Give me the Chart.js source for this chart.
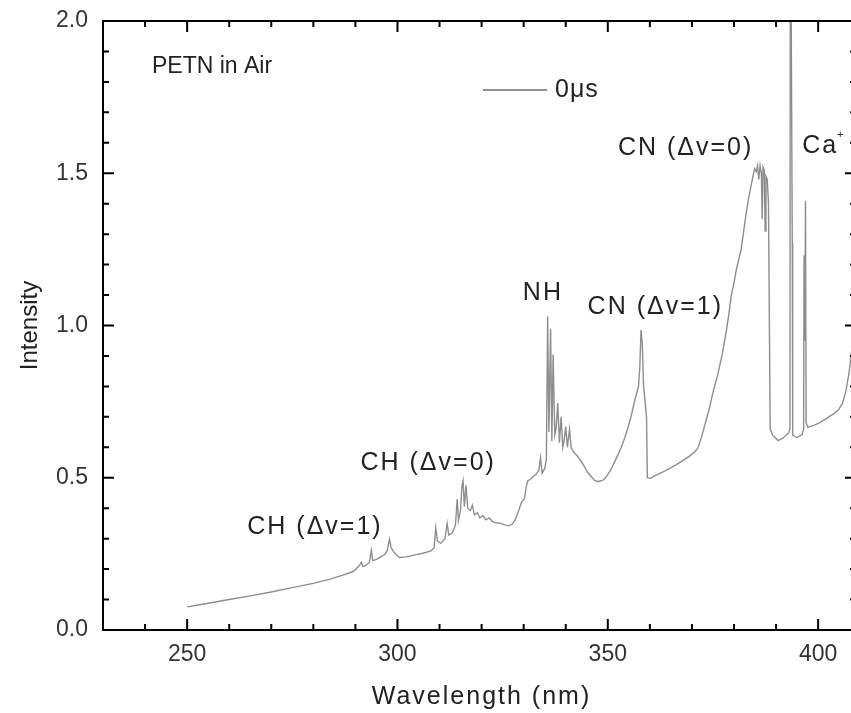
<!DOCTYPE html>
<html>
<head>
<meta charset="utf-8">
<script src="https://cdn.jsdelivr.net/npm/chart.js@4.4.0/dist/chart.umd.min.js"></script>
<style>
  html, body { margin: 0; padding: 0; background: #fff; }
  #wrap { width: 851px; height: 713px; overflow: hidden; position: relative; }
</style>
</head>
<body>
<div id="wrap"><canvas id="spectrumChart" width="860" height="713"></canvas></div>
<script>
// PETN emission spectrum in air, 0 us gate delay
var wavelength = [
  250, 255, 260, 265, 270, 275, 280, 284, 287, 289.5,
  290.5, 291, 291.4, 291.8, 292.5, 293.3, 293.8, 294.1, 295, 296,
  297, 297.6, 298.1, 298.5, 299, 299.7, 300.5, 302, 304, 306,
  308, 308.7, 309.1, 309.5, 310.3, 311.3, 311.8, 312.2, 313, 313.8,
  314.2, 314.5, 315, 315.3, 315.6, 315.9, 316.3, 316.7, 317.3, 317.8,
  318.3, 319, 319.6, 320.3, 321, 321.8, 322.6, 323.5, 324.5, 325.5,
  326.5, 327.3, 328, 328.8, 329.5, 330.2, 330.6, 331, 331.6, 332.3,
  333, 333.6, 334, 334.4, 335, 335.4, 335.7, 336, 336.4, 336.7,
  337, 337.4, 337.7, 338.1, 338.5, 338.9, 339.3, 339.6, 340, 340.4,
  340.9, 341.3, 342, 342.7, 343.5, 344.3, 345.2, 346, 346.8, 347.6,
  348.4, 349.2, 350, 350.8, 351.6, 352.4, 353.2, 354, 354.8, 355.6,
  356.3, 356.9, 357.3, 357.6, 357.9, 358.2, 358.5, 358.8, 359.2, 359.4,
  360.2, 361, 362, 363.5, 365, 366.5, 368, 369.5, 370.7, 371.5,
  372.3, 373.2, 374, 375, 376.2, 377.2, 378.1, 378.8, 379.3, 380,
  380.5, 381.1, 381.7, 382.3, 382.9, 383.5, 384, 384.5, 384.9, 385.3,
  385.6, 385.9, 386.2, 386.5, 386.7, 386.9, 387.2, 387.4, 387.6, 387.9,
  388.2, 388.6, 389.2, 390.5, 391.8, 393, 393.3, 393.4, 393.85, 393.95,
  395, 396.2, 396.55, 396.65, 396.8, 397.0, 397.15, 397.6, 399, 400.5,
  402, 403.5, 404.8, 405.8, 406.6, 407.3, 408, 409
];
var intensity = [
  0.076, 0.088, 0.100, 0.112, 0.125, 0.139, 0.153, 0.167, 0.180, 0.192,
  0.205, 0.213, 0.222, 0.208, 0.212, 0.222, 0.262, 0.228, 0.232, 0.240,
  0.248, 0.262, 0.298, 0.270, 0.258, 0.247, 0.238, 0.240, 0.246, 0.252,
  0.260, 0.270, 0.335, 0.292, 0.285, 0.300, 0.350, 0.312, 0.318, 0.345,
  0.430, 0.360, 0.395, 0.470, 0.490, 0.405, 0.475, 0.400, 0.392, 0.410,
  0.378, 0.385, 0.368, 0.376, 0.362, 0.368, 0.356, 0.352, 0.350, 0.345,
  0.342, 0.348, 0.362, 0.392, 0.420, 0.432, 0.470, 0.490, 0.495, 0.505,
  0.512, 0.525, 0.565, 0.515, 0.530, 0.560, 1.030, 0.650, 0.990, 0.620,
  0.905, 0.640, 0.660, 0.745, 0.615, 0.700, 0.600, 0.620, 0.668, 0.600,
  0.660, 0.598, 0.582, 0.572, 0.558, 0.540, 0.518, 0.505, 0.492, 0.487,
  0.490, 0.495, 0.510, 0.528, 0.552, 0.575, 0.600, 0.630, 0.665, 0.705,
  0.748, 0.780, 0.800, 0.860, 0.985, 0.940, 0.800, 0.760, 0.700, 0.500,
  0.498, 0.505, 0.512, 0.522, 0.533, 0.545, 0.558, 0.572, 0.585, 0.600,
  0.635, 0.680, 0.720, 0.780, 0.843, 0.905, 0.975, 1.040, 1.094, 1.140,
  1.180, 1.215, 1.250, 1.310, 1.370, 1.420, 1.455, 1.490, 1.515, 1.505,
  1.525, 1.480, 1.525, 1.500, 1.350, 1.520, 1.510, 1.310, 1.490, 1.480,
  1.400, 0.660, 0.640, 0.622, 0.632, 0.648, 0.660, 2.600, 1.270, 0.640,
  0.632, 0.642, 0.660, 1.230, 0.950, 1.410, 0.680, 0.666, 0.672, 0.682,
  0.695, 0.708, 0.722, 0.745, 0.785, 0.840, 0.920, 1.030
];

var xTicks = [250, 300, 350, 400];
var yTicks = [0, 0.5, 1.0, 1.5, 2.0];

// band assignments: text, superscript, left edge (nm), vertical centre (intensity)
var bandText = ['CH (Δv=1)', 'CH (Δv=0)', 'NH', 'CN (Δv=1)', 'CN (Δv=0)', 'Ca'];
var bandSup = ['', '', '', '', '', '+'];
var bandX = [264.3, 291.2, 329.8, 345.2, 352.4, 396.2];
var bandY = [0.338, 0.548, 1.107, 1.061, 1.583, 1.59];

var seriesName = '0μs';
var sampleName = 'PETN in Air';
var xTitle = 'Wavelength (nm)';

var FONT = '"Liberation Sans", Arial, Helvetica, sans-serif';
var INK = '#222';
var LINE = '#8e8e8e';

var points = wavelength.map(function (w, i) { return { x: w, y: intensity[i] }; });

function spaced(ctx, px) {
  if ('letterSpacing' in ctx) ctx.letterSpacing = px + 'px';
}

// box frame with inward ticks on all four sides
var frame = {
  id: 'frame',
  afterDraw: function (chart) {
    var ctx = chart.ctx, a = chart.chartArea;
    var xs = chart.scales.x, ys = chart.scales.y;
    ctx.save();
    ctx.strokeStyle = '#000';
    ctx.lineWidth = 2;
    ctx.strokeRect(a.left, a.top, a.right - a.left, a.bottom - a.top);
    ctx.beginPath();
    var v, p, len;
    for (v = 240; v <= 400; v += 10) {
      p = xs.getPixelForValue(v);
      len = v % 50 === 0 ? 11 : 6;
      ctx.moveTo(p, a.bottom); ctx.lineTo(p, a.bottom - len);
      ctx.moveTo(p, a.top); ctx.lineTo(p, a.top + len);
    }
    for (v = 1; v < 20; v++) {
      p = ys.getPixelForValue(v / 10);
      len = v % 5 === 0 ? 11 : 6;
      ctx.moveTo(a.left, p); ctx.lineTo(a.left + len, p);
      ctx.moveTo(a.right, p); ctx.lineTo(a.right - len, p);
    }
    ctx.stroke();
    ctx.restore();
  }
};

// band labels, sample name, legend and wavelength axis title
var labels = {
  id: 'labels',
  afterDraw: function (chart) {
    var ctx = chart.ctx, a = chart.chartArea;
    var xs = chart.scales.x, ys = chart.scales.y;
    ctx.save();
    ctx.fillStyle = INK;
    ctx.textBaseline = 'middle';
    ctx.textAlign = 'left';
    ctx.font = '25px ' + FONT;
    spaced(ctx, 2);
    for (var i = 0; i < bandText.length; i++) {
      var x = xs.getPixelForValue(bandX[i]);
      var y = ys.getPixelForValue(bandY[i]);
      ctx.fillText(bandText[i], x, y);
      if (bandSup[i]) {
        var w = ctx.measureText(bandText[i]).width;
        ctx.font = '11px ' + FONT;
        ctx.fillText(bandSup[i], x + w - 1, y - 11);
        ctx.font = '25px ' + FONT;
      }
    }

    spaced(ctx, 0);
    ctx.font = '23px ' + FONT;
    ctx.fillText(sampleName, a.left + 49, a.top + 46);

    // legend
    ctx.strokeStyle = LINE;
    ctx.lineWidth = 2;
    ctx.beginPath();
    ctx.moveTo(a.left + 380, a.top + 69);
    ctx.lineTo(a.left + 444, a.top + 69);
    ctx.stroke();
    ctx.font = '25px ' + FONT;
    spaced(ctx, 1);
    ctx.fillText(seriesName, a.left + 452, a.top + 69);

    // x axis title
    ctx.font = '25px ' + FONT;
    spaced(ctx, 2);
    ctx.textAlign = 'center';
    ctx.fillText(xTitle, (a.left + a.right) / 2 + 2, a.bottom + 67);
    ctx.restore();
  }
};

new Chart(document.getElementById('spectrumChart'), {
  type: 'line',
  data: {
    datasets: [{
      label: seriesName,
      data: points,
      borderColor: LINE,
      borderWidth: 1.4,
      pointRadius: 0,
      tension: 0,
      fill: false
    }]
  },
  options: {
    responsive: false,
    animation: false,
    layout: { padding: { top: 21, right: 4, left: 0, bottom: 0 } },
    plugins: { legend: { display: false }, tooltip: { enabled: false } },
    scales: {
      x: {
        type: 'linear',
        min: 230,
        max: 409,
        grid: { display: false, drawTicks: false },
        border: { display: false },
        afterBuildTicks: function (s) { s.ticks = xTicks.map(function (v) { return { value: v }; }); },
        afterFit: function (s) { s.height = 83; s.paddingLeft = 0; s.paddingRight = 0; },
        ticks: {
          autoSkip: false, maxRotation: 0, padding: 11,
          color: '#333', font: { family: FONT, size: 23 }
        },
        title: { display: false, text: xTitle }
      },
      y: {
        min: 0,
        max: 2.0,
        grid: { display: false, drawTicks: false },
        border: { display: false },
        afterBuildTicks: function (s) { s.ticks = yTicks.map(function (v) { return { value: v }; }); },
        afterFit: function (s) { s.width = 103; s.paddingTop = 0; s.paddingBottom = 0; },
        ticks: {
          padding: 15, color: '#333', font: { family: FONT, size: 23 },
          callback: function (v) { return v.toFixed(1); }
        },
        title: {
          display: true, text: 'Intensity', color: INK,
          font: { family: FONT, size: 24 }, padding: { top: 16, bottom: 0 }
        }
      }
    }
  },
  plugins: [frame, labels]
});
</script>
</body>
</html>
